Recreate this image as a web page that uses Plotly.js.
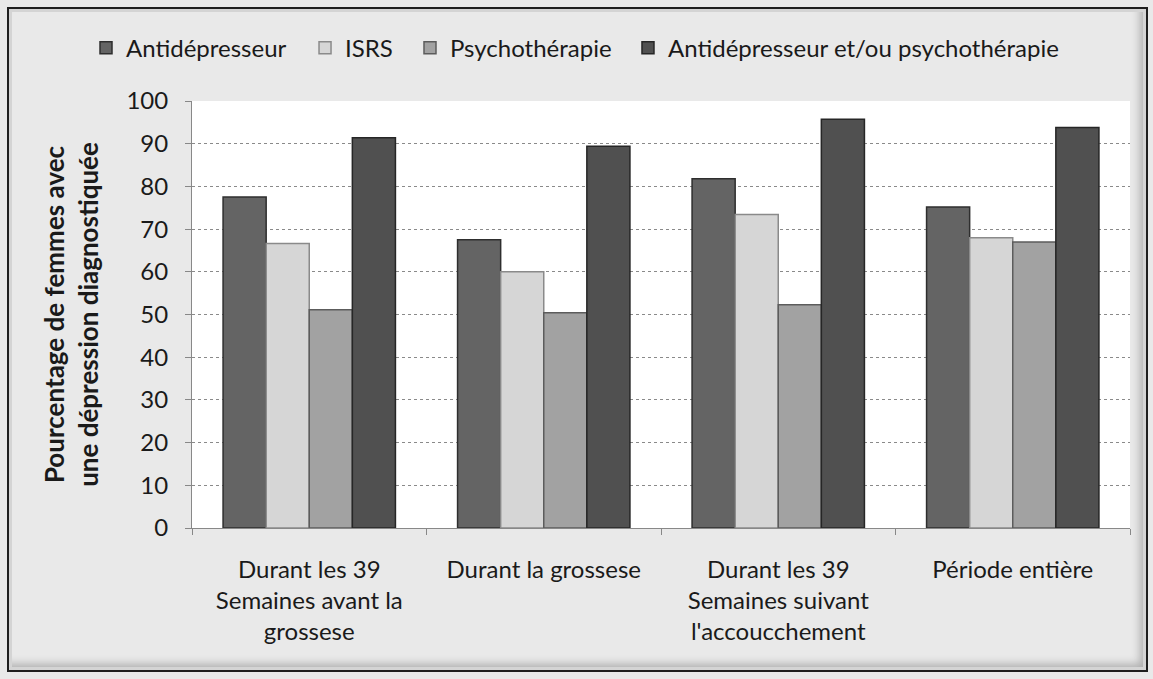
<!DOCTYPE html>
<html><head><meta charset="utf-8">
<script src="https://cdn.plot.ly/plotly-3.0.1.min.js"></script>
<style>
html,body{margin:0;padding:0;background:#fff;}
#wrap{position:relative;width:1153px;height:679px;}
#chart{width:1153px;height:679px;}
#frame{position:absolute;left:7px;top:7px;width:1137px;height:661px;border:2px solid #1e1e1e;box-shadow:inset 0 0 0 3px #d4d4d4, inset -6px -6px 8px rgba(0,0,0,0.25);pointer-events:none;}
</style></head>
<body><div id="wrap"><div id="chart"></div><div id="frame"></div></div>
<script>
const categories = ["Durant les 39<br>Semaines avant la<br>grossese", "Durant la grossese", "Durant les 39<br>Semaines suivant<br>l'accoucchement", "Période entière"];
const seriesNames = ["Antidépresseur", "ISRS", "Psychothérapie", "Antidépresseur et/ou psychothérapie"];
const antidepresseur = [77.5, 67.5, 81.8, 75.2];
const isrs = [66.6, 60.0, 73.4, 68.0];
const psychotherapie = [51.1, 50.4, 52.3, 67.0];
const combine = [91.4, 89.4, 95.7, 93.8];
const yTicks = [0,10,20,30,40,50,60,70,80,90,100];

const colors = ["#646464", "#d6d6d6", "#a2a2a2", "#505050"];
const lineColors = ["#2e2e2e", "#8a8a8a", "#5c5c5c", "#262626"];
const values = [antidepresseur, isrs, psychotherapie, combine];
const legendIds = ["legend", "legend2", "legend3", "legend4"];
const legendX = [-0.113, 0.1205, 0.2324, 0.4648];

const font = "Lato, 'Open Sans', 'Liberation Sans', sans-serif";
const traces = values.map((v, i) => ({
  type: "bar", name: seriesNames[i], x: categories, y: v, legend: legendIds[i],
  marker: {color: colors[i], line: {color: lineColors[i], width: 1.5}},
  hoverinfo: "skip"
}));

const layout = {
  width: 1153, height: 679,
  margin: {l: 192, r: 23, t: 101, b: 151},
  paper_bgcolor: "#e9e9e9", plot_bgcolor: "#ffffff",
  barmode: "group", bargap: 0.265, bargroupgap: 0,
  font: {family: font, size: 24, color: "#1a1a1a"},
  showlegend: true,
  xaxis: {type: "category", tickson: "boundaries", ticks: "outside", ticklen: 6, tickcolor: "#888",
          showline: true, linecolor: "#888", linewidth: 1, showgrid: false,
          ticklabelstandoff: 20,
          tickfont: {family: font, size: 24, color: "#1a1a1a"}},
  yaxis: {range: [0, 100], tickvals: yTicks, ticks: "outside", ticklen: 6, tickcolor: "#888",
          showline: true, linecolor: "#888", linewidth: 1,
          showgrid: true, gridcolor: "#8a8a8a", griddash: "dot", gridwidth: 1,
          zeroline: false, ticklabelstandoff: 12,
          tickfont: {family: font, size: 24, color: "#1a1a1a"},
          title: {text: "<b>Pourcentage de femmes avec<br>une dépression diagnostiquée</b>", standoff: 20,
                  font: {family: font, size: 26, color: "#1a1a1a"}}}
};
legendIds.forEach((id, i) => {
  layout[id] = {orientation: "h", x: legendX[i], xanchor: "left", y: 1.124, yanchor: "middle",
                font: {family: font, size: 24, color: "#1a1a1a"}, bgcolor: "rgba(0,0,0,0)",
                itemwidth: 30};
});
Plotly.newPlot("chart", traces, layout, {displayModeBar: false, staticPlot: true});
</script></body></html>
